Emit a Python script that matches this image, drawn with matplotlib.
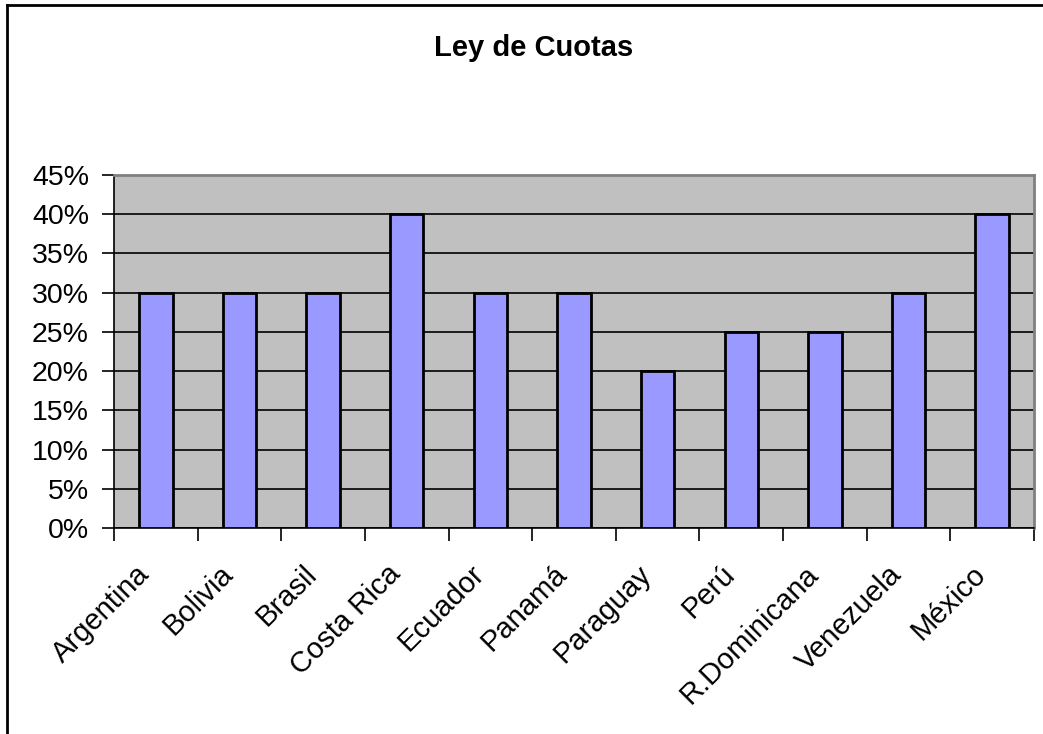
import matplotlib.pyplot as plt
import matplotlib.transforms as mtransforms
import numpy as np
from matplotlib.lines import Line2D
from matplotlib.ticker import FuncFormatter, MultipleLocator

plt.rcParams['font.family'] = ['Liberation Sans', 'DejaVu Sans']

paises = ['Argentina', 'Bolivia', 'Brasil', 'Costa Rica', 'Ecuador', 'Panamá',
          'Paraguay', 'Perú', 'R.Dominicana', 'Venezuela', 'México']
cuotas = [30, 30, 30, 40, 30, 30, 20, 25, 25, 30, 40]

fig = plt.figure(figsize=(10.43, 7.34), dpi=100)
ax = fig.add_axes([0.1093, 0.2807, 0.8821, 0.4809])

x = np.arange(len(paises))
ax.bar(x, cuotas, width=0.4, color='#9999FF', edgecolor='black',
       linewidth=2, zorder=3)

ax.set_facecolor('#C0C0C0')
ax.set_xlim(-0.5, len(paises) - 0.5)
ax.set_ylim(0, 45)
ax.yaxis.set_major_locator(MultipleLocator(5))
ax.yaxis.set_major_formatter(FuncFormatter(lambda v, p: f'{v:.0f}%'))
ax.grid(axis='y', color='black', linewidth=1.2, zorder=1)

# category boundaries as ticks, labels at centers
ax.set_xticks(np.arange(len(paises) + 1) - 0.5)
ax.set_xticklabels([])
ax.set_xticks(x, minor=True)
ax.set_xticklabels(paises, minor=True, rotation=45, ha='right', va='center',
                   rotation_mode='anchor', fontsize=21)
ax.tick_params(axis='x', which='minor', length=0, pad=33)
ax.tick_params(axis='x', which='major', length=9, width=1.2, direction='out')
ax.tick_params(axis='y', length=9, width=1.2, direction='out',
               labelsize=20.5, pad=9)

shift = mtransforms.ScaledTranslation(-11 / 100, 4 / 100, fig.dpi_scale_trans)
for lbl in ax.get_xticklabels(minor=True):
    lbl.set_transform(lbl.get_transform() + shift)

for s in ('top', 'right'):
    ax.spines[s].set_color('#808080')
    ax.spines[s].set_linewidth(2)
for s in ('left', 'bottom'):
    ax.spines[s].set_color('black')
    ax.spines[s].set_linewidth(1.2)

fig.text(0.512, 0.934, 'Ley de Cuotas', ha='center', va='center',
         fontsize=21, fontweight='bold')

# chart frame (only left and top visible in the crop)
fig.add_artist(Line2D([0.0067, 0.0067], [0, 0.993], color='black',
                      linewidth=2, transform=fig.transFigure))
fig.add_artist(Line2D([0.0067, 1], [0.993, 0.993], color='black',
                      linewidth=2, transform=fig.transFigure))

fig.savefig('out.png', dpi=100)
